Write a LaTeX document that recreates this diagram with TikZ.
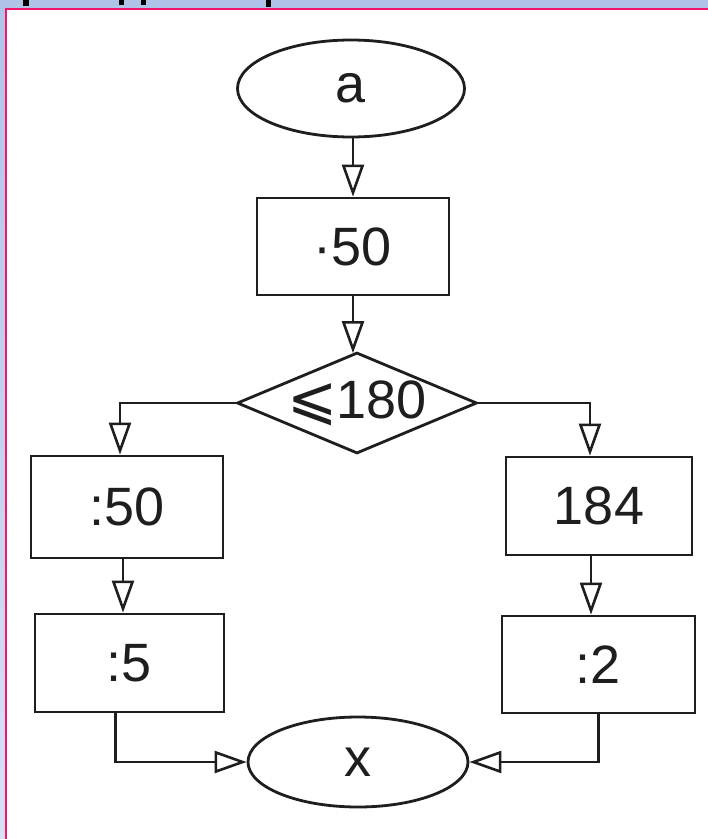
\documentclass[tikz,border=0pt]{standalone}
\usepackage{fontspec}
\setmainfont{Liberation Sans}
\newfontfamily\symfont{DejaVu Sans}
\usetikzlibrary{shapes.geometric,arrows.meta}
\definecolor{bgtop}{HTML}{AFC3E8}
\definecolor{bgbot}{HTML}{D8E0F4}
\definecolor{pinkline}{HTML}{F0166E}
\definecolor{ink}{HTML}{1E1E1E}
\tikzset{
  lbl/.style={font=\fontsize{54}{60}\selectfont, line width=2.8pt, draw=ink, inner sep=0pt, text=ink},
  box/.style={lbl, rectangle},
  oval/.style={lbl, ellipse},
  flow/.style={line width=2.6pt, draw=ink, -{Triangle[open,length=32pt,width=22pt,line width=2.6pt]}},
  diaedge/.style={line width=2.8pt, draw=ink, line join=miter}
}
\begin{document}
\begin{tikzpicture}[x=1pt,y=-1pt]
\useasboundingbox (0,0) rectangle (708,839);
% background frame
\fill[top color=bgtop, bottom color=bgbot] (0,0) rectangle (708,839);
\fill[white] (6,9) rectangle (708,839);
\draw[pinkline, line width=2.6pt] (6,839) -- (6,9) -- (708,9);
\fill[black] (23,0) rectangle (29,6);
\fill[black] (119,0) rectangle (124,5);
\fill[black] (141,0) rectangle (146,5);
\fill[black] (266,0) rectangle (271,7);
% nodes
\node[oval, minimum width=227pt, minimum height=97pt] (a) at (351,88.5) {a};
\node[box, minimum width=192pt, minimum height=97pt] (m50) at (353,246.5) {·50};
\node[lbl, draw=none, rectangle, minimum width=236pt, minimum height=97pt] (d) at (357,403) {{\symfont\fontsize{60}{60}\selectfont ⩽}\kern-2pt180};
\draw[diaedge] (d.west) -- (d.north) -- (d.east) -- (d.south) -- cycle;
\node[box, minimum width=192pt, minimum height=102pt] (d50) at (127,507) {:50};
\node[box, minimum width=189pt, minimum height=98pt] (d5) at (129.5,663) {:5};
\node[box, minimum width=186pt, minimum height=98pt] (n184) at (599,506) {184};
\node[box, minimum width=193pt, minimum height=97pt] (d2) at (598.5,664.5) {:2};
\node[oval, minimum width=220pt, minimum height=90pt] (x) at (358,762) {x};
% connectors
\draw[flow] (a.south -| m50.north) -- (m50.north);
\draw[flow] (m50.south) -- (m50.south |- d.north);
\draw[flow] (d.west) -| ([xshift=-7pt]d50.north);
\draw[flow] ([xshift=-4pt]d50.south) -- ([xshift=-4pt]d50.south |- d5.north);
\draw[flow] (d.east) -| ([xshift=-9pt]n184.north);
\draw[flow] ([xshift=-8pt]n184.south) -- ([xshift=-8pt]n184.south |- d2.north);
\draw[flow] ([xshift=-14pt]d5.south) |- (x.west);
\draw[flow] (d2.south) |- (x.east);
\end{tikzpicture}
\end{document}
